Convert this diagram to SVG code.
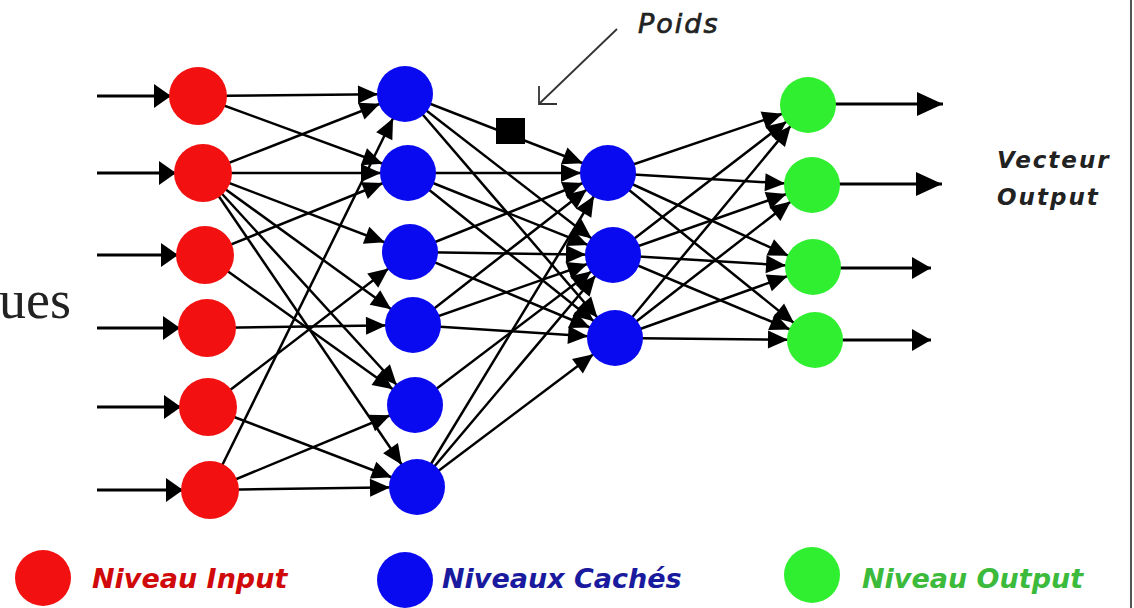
<svg xmlns="http://www.w3.org/2000/svg" width="1134" height="608" viewBox="0 0 1134 608">
<style>
.c{stroke:#000;stroke-width:2.5;fill:none;marker-end:url(#arr)}
.in{stroke:#000;stroke-width:2.8;fill:none;marker-end:url(#arrIn)}
.out{stroke:#000;stroke-width:2.8;fill:none}
.red{fill:#f21010}
.blue{fill:#0a0af0}
.green{fill:#30ee30}
.lbl{font-family:"DejaVu Sans",Verdana,sans-serif;font-style:italic;font-weight:bold}
</style>
<defs>
<marker id="arr" markerUnits="userSpaceOnUse" viewBox="0 -12 60 24" markerWidth="60" markerHeight="24" refX="56" refY="0" orient="auto">
<path d="M9,-9 L29,0 L9,9 z" fill="#000"/>
</marker>
<marker id="arrIn" markerUnits="userSpaceOnUse" viewBox="0 -14 60 28" markerWidth="60" markerHeight="28" refX="56" refY="0" orient="auto">
<path d="M12,-12 L29,0 L12,12 z" fill="#000"/>
</marker>
<marker id="outL" markerUnits="userSpaceOnUse" viewBox="-30 -14 32 28" markerWidth="32" markerHeight="28" refX="0" refY="0" orient="auto">
<path d="M-26,-12 L0,0 L-26,12 z" fill="#000"/>
</marker>
<marker id="outS" markerUnits="userSpaceOnUse" viewBox="-30 -14 32 28" markerWidth="32" markerHeight="28" refX="0" refY="0" orient="auto">
<path d="M-19,-11 L0,0 L-19,11 z" fill="#000"/>
</marker>
</defs>
<rect width="1134" height="608" fill="#fff"/>
<line x1="1131" y1="0" x2="1131" y2="608" stroke="#555" stroke-width="2"/>
<text x="-1" y="318" font-family="'Liberation Serif',serif" font-size="54" fill="#222">ues</text>

<g id="connectors">
<!-- input arrows -->
<line class="in" x1="97" y1="96" x2="198" y2="96"/>
<line class="in" x1="97" y1="173" x2="203" y2="173"/>
<line class="in" x1="97" y1="255" x2="205" y2="255"/>
<line class="in" x1="97" y1="328" x2="207" y2="328"/>
<line class="in" x1="97" y1="407" x2="208" y2="407"/>
<line class="in" x1="97" y1="490" x2="210" y2="490"/>
<!-- input to hidden 1 -->
<line class="c" x1="198" y1="96" x2="405" y2="94"/>
<line class="c" x1="198" y1="96" x2="408" y2="173"/>
<line class="c" x1="203" y1="173" x2="405" y2="94"/>
<line class="c" x1="203" y1="173" x2="408" y2="173"/>
<line class="c" x1="203" y1="173" x2="410" y2="252"/>
<line class="c" x1="203" y1="173" x2="413" y2="325"/>
<line class="c" x1="203" y1="173" x2="415" y2="405"/>
<line class="c" x1="203" y1="173" x2="417" y2="487"/>
<line class="c" x1="205" y1="255" x2="408" y2="173"/>
<line class="c" x1="205" y1="255" x2="415" y2="405"/>
<line class="c" x1="207" y1="328" x2="413" y2="325"/>
<line class="c" x1="208" y1="407" x2="410" y2="252"/>
<line class="c" x1="208" y1="407" x2="417" y2="487"/>
<line class="c" x1="210" y1="490" x2="405" y2="94"/>
<line class="c" x1="210" y1="490" x2="415" y2="405"/>
<line class="c" x1="210" y1="490" x2="417" y2="487"/>
<!-- hidden 1 to hidden 2 -->
<line class="c" x1="405" y1="94" x2="608" y2="173"/>
<line class="c" x1="405" y1="94" x2="613" y2="255"/>
<line class="c" x1="405" y1="94" x2="615" y2="338"/>
<line class="c" x1="408" y1="173" x2="608" y2="173"/>
<line class="c" x1="408" y1="173" x2="613" y2="255"/>
<line class="c" x1="408" y1="173" x2="615" y2="338"/>
<line class="c" x1="410" y1="252" x2="608" y2="173"/>
<line class="c" x1="410" y1="252" x2="613" y2="255"/>
<line class="c" x1="410" y1="252" x2="615" y2="338"/>
<line class="c" x1="413" y1="325" x2="608" y2="173"/>
<line class="c" x1="413" y1="325" x2="613" y2="255"/>
<line class="c" x1="413" y1="325" x2="615" y2="338"/>
<line class="c" x1="415" y1="405" x2="613" y2="255"/>
<line class="c" x1="417" y1="487" x2="608" y2="173"/>
<line class="c" x1="417" y1="487" x2="613" y2="255"/>
<line class="c" x1="417" y1="487" x2="615" y2="338"/>
<!-- hidden 2 to output -->
<line class="c" x1="608" y1="173" x2="808" y2="105"/>
<line class="c" x1="608" y1="173" x2="812" y2="185"/>
<line class="c" x1="608" y1="173" x2="813" y2="267"/>
<line class="c" x1="608" y1="173" x2="815" y2="340"/>
<line class="c" x1="613" y1="255" x2="808" y2="105"/>
<line class="c" x1="613" y1="255" x2="812" y2="185"/>
<line class="c" x1="613" y1="255" x2="813" y2="267"/>
<line class="c" x1="613" y1="255" x2="815" y2="340"/>
<line class="c" x1="615" y1="338" x2="808" y2="105"/>
<line class="c" x1="615" y1="338" x2="812" y2="185"/>
<line class="c" x1="615" y1="338" x2="813" y2="267"/>
<line class="c" x1="615" y1="338" x2="815" y2="340"/>
<!-- output arrows -->
<line class="out" x1="808" y1="104" x2="943" y2="104" marker-end="url(#outL)"/>
<line class="out" x1="812" y1="184" x2="942" y2="184" marker-end="url(#outL)"/>
<line class="out" x1="813" y1="268" x2="931" y2="268" marker-end="url(#outS)"/>
<line class="out" x1="815" y1="340" x2="931" y2="340" marker-end="url(#outS)"/>
<!-- poids pointer -->
<line x1="617" y1="29" x2="540" y2="103" stroke="#333" stroke-width="1.8"/>
<polyline points="539,86 539,104 557,104" fill="none" stroke="#333" stroke-width="1.8"/>
</g>

<g id="weight"><rect x="496" y="118" width="29" height="26" fill="#000"/></g>

<g id="input-layer">
<circle id="in1" class="red" cx="198" cy="96" r="29"/>
<circle id="in2" class="red" cx="203" cy="173" r="29"/>
<circle id="in3" class="red" cx="205" cy="255" r="29"/>
<circle id="in4" class="red" cx="207" cy="328" r="29"/>
<circle id="in5" class="red" cx="208" cy="407" r="29"/>
<circle id="in6" class="red" cx="210" cy="490" r="29"/>
</g>
<g id="hidden-layer-1">
<circle id="h1a" class="blue" cx="405" cy="94" r="28"/>
<circle id="h1b" class="blue" cx="408" cy="173" r="28"/>
<circle id="h1c" class="blue" cx="410" cy="252" r="28"/>
<circle id="h1d" class="blue" cx="413" cy="325" r="28"/>
<circle id="h1e" class="blue" cx="415" cy="405" r="28"/>
<circle id="h1f" class="blue" cx="417" cy="487" r="28"/>
</g>
<g id="hidden-layer-2">
<circle id="h2a" class="blue" cx="608" cy="173" r="28"/>
<circle id="h2b" class="blue" cx="613" cy="255" r="28"/>
<circle id="h2c" class="blue" cx="615" cy="338" r="28"/>
</g>
<g id="output-layer">
<circle id="o1" class="green" cx="808" cy="105" r="28"/>
<circle id="o2" class="green" cx="812" cy="185" r="28"/>
<circle id="o3" class="green" cx="813" cy="267" r="28"/>
<circle id="o4" class="green" cx="815" cy="340" r="28"/>
</g>

<g id="label-poids"><text x="638" y="33" font-family="'DejaVu Sans',Verdana,sans-serif" font-style="italic" font-size="27" letter-spacing="2" fill="#222" stroke="#222" stroke-width="0.7">Poids</text></g>
<g id="label-vecteur">
<text class="lbl" x="997" y="168" font-size="23" letter-spacing="2" fill="#222">Vecteur</text>
<text class="lbl" x="997" y="205" font-size="23" letter-spacing="2" fill="#222">Output</text>
</g>

<g id="legend-input">
<circle class="red" cx="43" cy="578" r="28"/>
<text class="lbl" x="92" y="588" font-size="27" fill="#d00a0a">Niveau Input</text>
</g>
<g id="legend-hidden">
<circle class="blue" cx="405" cy="580" r="28"/>
<text class="lbl" x="442" y="588" font-size="27" fill="#1a1a9e">Niveaux Cachés</text>
</g>
<g id="legend-output">
<circle class="green" cx="812" cy="575" r="28"/>
<text class="lbl" x="862" y="588" font-size="27" fill="#3cba3c">Niveau Output</text>
</g>
</svg>
